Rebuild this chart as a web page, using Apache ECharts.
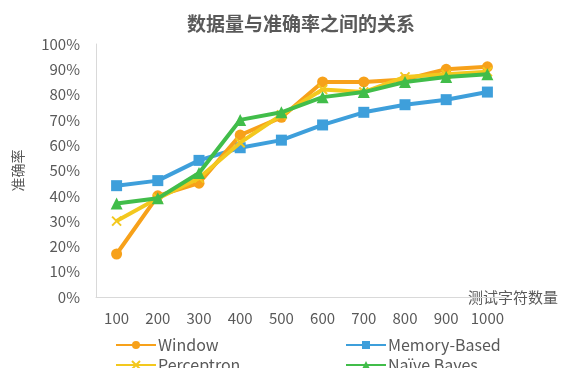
<!DOCTYPE html>
<html>
<head>
<meta charset="utf-8">
<script src="https://cdn.jsdelivr.net/npm/echarts@6/dist/echarts.min.js"></script>
<style>
  html, body { margin: 0; padding: 0; background: #fff; }
  #chart { width: 564px; height: 368px; }
</style>
</head>
<body>
<div id="chart"></div>
<script>
// Test-set size (characters) on the x axis
const categories = ['100', '200', '300', '400', '500', '600', '700', '800', '900', '1000'];

// Accuracy (%) of each method
const windowAcc     = [17, 40, 45, 64, 71, 85, 85, 86, 90, 91];
const memoryAcc     = [44, 46, 54, 59, 62, 68, 73, 76, 78, 81];
const perceptronAcc = [30, 39, 47, 61, 72, 82, 81, 87, 88, 89];
const bayesAcc      = [37, 39, 49, 70, 73, 79, 81, 85, 87, 88];

const seriesNames = ['Window', 'Memory-Based', 'Perceptron', 'Naïve Bayes'];
const colors = ['#F7A11A', '#3E9FDB', '#F3C81E', '#41BD4A'];
const symbols = ['circle', 'rect', 'path://M0,0 L2,2 M2,0 L0,2', 'triangle'];

const textColor = '#595959';
const font = '"Microsoft YaHei", "Noto Sans CJK SC", "Noto Sans", sans-serif';

function makeSeries(i, data) {
  const isCross = i === 2;
  return {
    name: seriesNames[i],
    type: 'line',
    data: data,
    symbol: symbols[i],
    symbolSize: isCross ? 9 : (i === 3 ? 12 : 11),
    lineStyle: { width: 4, color: colors[i] },
    itemStyle: isCross
      ? { color: 'none', borderColor: colors[i], borderWidth: 2 }
      : { color: colors[i], borderColor: colors[i], borderWidth: 0 },
    z: [3, 2, 4, 5][i]
  };
}

function legendAt(name, left, top) {
  return {
    data: [name],
    left: left,
    top: top,
    itemWidth: 40,
    itemHeight: 10,
    itemGap: 4,
    textStyle: { fontSize: 16, color: textColor, fontFamily: font, padding: [0, 0, 0, -3] }
  };
}

const chart = echarts.init(document.getElementById('chart'), null, { renderer: 'canvas' });
chart.setOption({
  animation: false,
  color: colors,
  title: {
    text: '数据量与准确率之间的关系',
    left: 296,
    textAlign: 'center',
    top: 9,
    textStyle: { fontSize: 19, fontWeight: 'bold', color: textColor, fontFamily: font }
  },
  legend: [
    legendAt('Window', 110, 332),
    legendAt('Memory-Based', 340, 332),
    legendAt('Perceptron', 110, 352),
    legendAt('Naïve Bayes', 340, 352)
  ],
  grid: { left: 96, right: 56, top: 44, bottom: 71 },
  xAxis: {
    type: 'category',
    data: categories,
    boundaryGap: true,
    name: '测试字符数量',
    nameLocation: 'end',
    nameGap: -40,
    nameTextStyle: { fontSize: 15, color: textColor, fontFamily: font, verticalAlign: 'middle' },
    axisLine: { lineStyle: { color: '#D9D9D9', width: 1 } },
    axisTick: { show: false },
    axisLabel: { interval: 0, margin: 14, fontSize: 15, color: textColor, fontFamily: font },
    splitLine: { show: false }
  },
  yAxis: {
    type: 'value',
    min: 0,
    max: 100,
    interval: 10,
    name: '准确率',
    nameLocation: 'middle',
    nameRotate: 90,
    nameGap: 71,
    nameTextStyle: { fontSize: 14, color: textColor, fontFamily: font },
    axisLine: { show: true, lineStyle: { color: '#D9D9D9', width: 1 } },
    axisTick: { show: false },
    axisLabel: { margin: 16, fontSize: 15, color: textColor, fontFamily: font, formatter: '{value}%' },
    splitLine: { show: false }
  },
  series: [
    makeSeries(0, windowAcc),
    makeSeries(1, memoryAcc),
    makeSeries(2, perceptronAcc),
    makeSeries(3, bayesAcc)
  ]
});
</script>
</body>
</html>
